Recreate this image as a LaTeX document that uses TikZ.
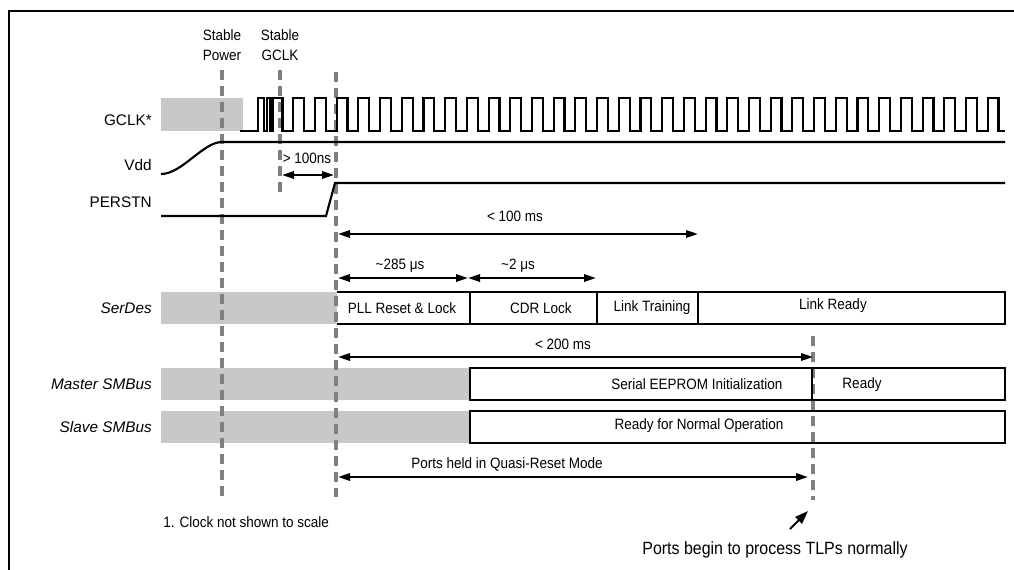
\documentclass[tikz,border=0pt]{standalone}
\usepackage{fontspec}
\setmainfont{Liberation Sans}[FakeStretch=0.9]
\newfontfamily\lblfont{Liberation Sans}
\usetikzlibrary{arrows.meta}
\definecolor{gfill}{RGB}{200,200,200}
\definecolor{dgray}{RGB}{128,128,128}
\begin{document}
\begin{tikzpicture}[x=0.75pt,y=-0.75pt,
  txt/.style={font=\fontsize{11.25}{15}\selectfont, inner sep=0pt, align=center},
  bigtxt/.style={font=\fontsize{13.3}{16}\selectfont, inner sep=0pt},
  lbl/.style={font=\lblfont\fontsize{11.5}{14}\selectfont, inner sep=0pt, anchor=east},
  ilbl/.style={lbl, font=\lblfont\fontsize{11.5}{14}\selectfont\itshape},
  wave/.style={line width=1.6pt},
  boxline/.style={draw, line width=1.8pt},
  grayfill/.style={fill=gfill},
  vdash/.style={draw=dgray, line width=2.6pt, dash pattern=on 7.5pt off 4.5pt},
  dim/.style={line width=1.6pt, {Triangle[length=9pt,width=5.5pt]}-{Triangle[length=9pt,width=5.5pt]}},
  onearr/.style={line width=1.4pt, -{Triangle[length=10pt,width=7pt]}}
]
\useasboundingbox (0,0) rectangle (1014,569);
% frame
\draw[line width=1.6pt] (9,575) -- (9,11) -- (1020,11);

% gray areas
\fill[grayfill] (161,98) rectangle (243,131);
\fill[grayfill] (161,292) rectangle (337,324);
\fill[grayfill] (161,368) rectangle (470,400);
\fill[grayfill] (161,411) rectangle (470,443);

% dashed markers
\coordinate (d1t) at (222,70);  \coordinate (d1b) at (222,497);
\coordinate (d2t) at (280,70);  \coordinate (d2b) at (280,192);
\coordinate (d3t) at (336,72);  \coordinate (d3b) at (336,497);
\coordinate (d4t) at (813,336); \coordinate (d4b) at (813,500);
\draw[vdash] (d1t) -- (d1b);
\draw[vdash] (d2t) -- (d2b);
\draw[vdash] (d3t) -- (d3b);
\draw[vdash] (d4t) -- (d4b);

% top labels
\node[txt] (sp) at (222,45) {Stable\\Power};
\node[txt] (sg) at (280,45) {Stable\\GCLK};

% signal labels
\node[lbl] (lclk) at (152,120) {GCLK*};
\node[lbl] (lvdd) at (152,165) {Vdd};
\node[lbl] (lper) at (152,202) {PERSTN};
\node[ilbl] (lser) at (152,308) {SerDes};
\node[ilbl] (lmas) at (152,384) {Master SMBus};
\node[ilbl] (lsla) at (152,427) {Slave SMBus};

% clock
\draw[wave] (240,131) -- (258,131) -- (258,98) -- (264,98) -- (264,131) -- (267,131) -- (267,98)
  -- (270,98) -- (270,131) -- (272.5,131) -- (272.5,98) -- (282.5,98) -- (282.5,131) -- (293.3,131)
  \foreach \k in {0,...,32}{ -- ({293.3+21.7*\k},131) -- ({293.3+21.7*\k},98)
     -- ({304.15+21.7*\k},98) -- ({304.15+21.7*\k},131) } -- (1005,131);

% Vdd
\draw[wave] (161,174) .. controls (182,174) and (203,142) .. (222,142) -- (1005,142);
% PERSTN
\draw[wave] (161,216) -- (326,216) -- (335,183) -- (1005,183);

% > 100ns
\coordinate (a1l) at (282,175); \coordinate (a1r) at (334,175);
\draw[dim] (a1l) -- (a1r);
\node[txt] (t100ns) at (307,158) {> 100ns};

% < 100 ms
\coordinate (a2l) at (338,234); \coordinate (a2r) at (698,234);
\draw[dim] (a2l) -- (a2r);
\node[txt] (t100ms) at (515,216) {< 100 ms};

% ~285 us, ~2 us
\coordinate (a3l) at (338,278); \coordinate (a3m) at (468,278); \coordinate (a3r) at (596,278);
\draw[dim] (a3l) -- (a3m);
\draw[dim] (a3m) -- (a3r);
\node[txt] (t285) at (400,266) {\textasciitilde 285 μs};
\node[txt] (t2) at (518,266) {\textasciitilde 2 μs};

% SerDes boxes
\draw[boxline] (337,292) -- (1005,292) -- (1005,324) -- (337,324);
\draw[boxline] (470,292) -- (470,324);
\draw[boxline] (597,292) -- (597,324);
\draw[boxline] (698,292) -- (698,324);
\node[txt] (pll) at (402,308) {PLL Reset \& Lock};
\node[txt] (cdr) at (541,308) {CDR Lock};
\node[txt] (ltr) at (652,308) {Link Training};
\node[txt] (lrd) at (833,306) {Link Ready};

% < 200 ms
\coordinate (a4l) at (338,357); \coordinate (a4r) at (813,357);
\draw[dim] (a4l) -- (a4r);
\node[txt] (t200) at (563,344) {< 200 ms};

% Master SMBus
\draw[boxline] (470,368) rectangle (1005,400);
\draw[boxline] (812,368) -- (812,400);
\node[txt] (see) at (697,384) {Serial EEPROM Initialization};
\node[txt] (rdy) at (862,385) {Ready};

% Slave SMBus
\draw[boxline] (470,411) rectangle (1005,443);
\node[txt] (rno) at (699,426) {Ready for Normal Operation};

% Quasi reset
\coordinate (a5l) at (338,477); \coordinate (a5r) at (808,477);
\draw[dim] (a5l) -- (a5r);
\node[txt] (tq) at (507,464) {Ports held in Quasi-Reset Mode};

% notes
\node[txt, anchor=west] (note) at (163,522) {1. Clock not shown to scale};
\node[bigtxt] (tlp) at (775,550) {Ports begin to process TLPs normally};
\coordinate (tipp) at (808,511);
\coordinate (tail) at (790,529);
\draw[onearr] (tail) -- (tipp);
\end{tikzpicture}
\end{document}
